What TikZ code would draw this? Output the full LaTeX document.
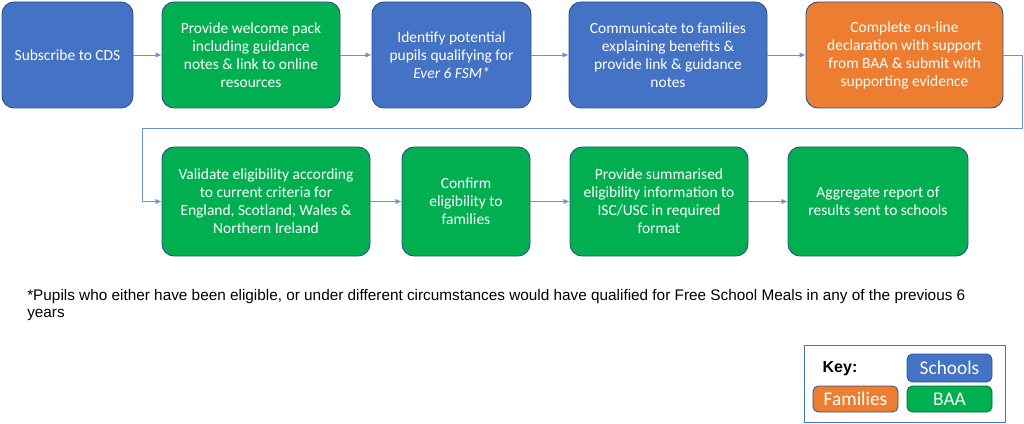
\documentclass[tikz,border=0pt]{standalone}
\usepackage{fontspec}
\setmainfont{Carlito}
\newfontfamily\arialfont{Liberation Sans}
\usetikzlibrary{arrows.meta}
\definecolor{schoolblue}{HTML}{4472C4}
\definecolor{boxedge}{HTML}{2F528F}
\definecolor{baagreen}{HTML}{00B050}
\definecolor{famorange}{HTML}{ED7D31}
\definecolor{flowline}{HTML}{6F8FD0}
\begin{document}
\begin{tikzpicture}[x=0.75pt, y=-0.75pt, line join=round, >={Latex[length=4.5pt,width=4pt]}, font=\fontsize{11.6}{13.5}\selectfont]
			\tikzset{stepbox/.style={draw=boxedge, line width=0.7pt, rounded corners=9pt, text=white, align=center, inner sep=0pt, minimum height=79.5pt},
				schools/.style={stepbox, fill=schoolblue},
				baa/.style={stepbox, fill=baagreen},
				families/.style={stepbox, fill=famorange},
				keybox/.style={draw=boxedge, line width=0.6pt, rounded corners=4pt, text=white, inner sep=0pt, minimum width=63.75pt, font=\fontsize{14.5}{16}\selectfont},
				flow/.style={->, draw=flowline, line width=0.6pt}}
			\useasboundingbox (0,0) rectangle (1024,424);
			% first row
			\node[schools, minimum width=98.25pt] (subscribe) at (67.5,55) {Subscribe to CDS};
			\node[baa, minimum width=133.5pt] (welcome) at (251,55) {Provide welcome pack\\including guidance\\notes \& link to online\\resources};
			\node[schools, minimum width=119.25pt] (identify) at (451.5,55) {Identify potential\\pupils qualifying for\\\textit{Ever 6 FSM*}};
			\node[schools, minimum width=148.5pt] (communicate) at (668,55) {Communicate to families\\explaining benefits \&\\provide link \& guidance\\notes};
			\node[families, minimum width=147.75pt] (declare) at (904.5,55) {Complete on-line\\declaration with support\\from BAA \& submit with\\supporting evidence};
			% second row
			\node[baa, minimum width=156pt, minimum height=81.75pt] (validate) at (266,201.5) {Validate eligibility according\\to current criteria for\\England, Scotland, Wales \&\\Northern Ireland};
			\node[baa, minimum width=96pt, minimum height=81.75pt] (confirm) at (466,201.5) {Confirm\\eligibility to\\families};
			\node[baa, minimum width=133.5pt, minimum height=81.75pt] (summarise) at (659,201.5) {Provide summarised\\eligibility information to\\ISC/USC in required\\format};
			\node[baa, minimum width=135pt, minimum height=81.75pt] (aggregate) at (878,201.5) {Aggregate report of\\results sent to schools};
			% connectors
			\foreach \a/\b in {subscribe/welcome, welcome/identify, identify/communicate, communicate/declare, validate/confirm, confirm/summarise, summarise/aggregate}
				\draw[flow] (\a.east) -- (\b.west);
			\coordinate (turnR) at (1022,128);
			\coordinate (turnL) at (142,128);
			\draw[flow] (declare.east) -| (turnR) -- (turnL) |- (validate.west);
			% footnote
			\node[anchor=north west, align=left, inner sep=0pt, font=\arialfont\fontsize{11.5}{12.9}\selectfont] (note) at (27,289) {*Pupils who either have been eligible, or under different circumstances would have qualified for Free School Meals in any of the previous 6\\years};
			% key
			\node[draw=schoolblue, line width=0.7pt, minimum width=150.75pt, minimum height=57.75pt, inner sep=0pt] (key) at (904.5,383.5) {};
			\node[font=\arialfont\bfseries\fontsize{12}{14}\selectfont] (keylabel) at (840,369) {Key:};
			\node[keybox, fill=schoolblue, minimum height=21pt] (kschools) at (949.5,368) {Schools};
			\node[keybox, fill=famorange, minimum height=19.5pt] (kfamilies) at (855.5,399) {Families};
			\node[keybox, fill=baagreen, draw=baagreen!60!black, minimum height=19.5pt] (kbaa) at (949.5,399) {BAA};
		\end{tikzpicture}
\end{document}
